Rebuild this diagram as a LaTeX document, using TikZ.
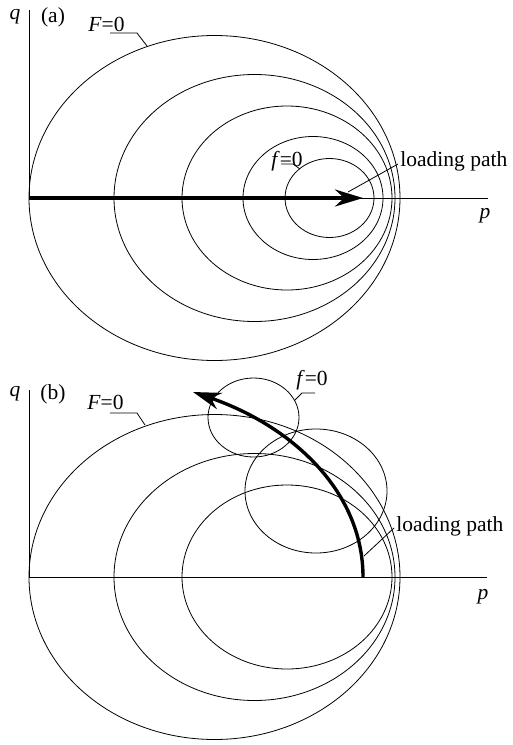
\documentclass[tikz,border=0pt]{standalone}
\usepackage{fontspec}
\setmainfont{Liberation Serif}
\usetikzlibrary{arrows.meta}
\begin{document}
\begin{tikzpicture}[x=1pt,y=-1pt,>=Stealth,line width=0.8pt,
  lbl/.style={inner sep=0pt,font=\fontsize{21.5}{24}\selectfont},
  load/.style={line width=3.4pt,-{Stealth[length=28pt,width=17pt]}}]
\useasboundingbox (0,0) rectangle (513,745);
% (a) proportional loading
\coordinate (oa) at (29,198);
\coordinate (qa) at (29,10);
\coordinate (pa) at (488,198);
\draw (qa)--(oa)--(pa);
\node[lbl] (qlaba) at (15,17) {\textit{q}};
\node[lbl] (plaba) at (485,216) {\textit{p}};
\node[lbl] (taga) at (53,17) {(a)};
\foreach \cx/\rx/\ry in {214.5/185.5/162.5,254.5/140.5/123.5,287/105/92,313/70/61.5,329.5/44.5/39.5}
  \draw (\cx,198) ellipse [x radius=\rx, y radius=\ry];
\coordinate (tipa) at (363,198);
\draw[load] (oa)--(tipa);
\node[lbl,anchor=base west] (Fa) at (88,31) {\textit{F}=0};
\coordinate (Fea) at (147,46);
\draw (110,33)--(137,33)--(Fea);
\node[lbl,anchor=base west] (fa) at (271,166) {\textit{f}=0};
\coordinate (fea) at (300,169);
\draw (281,164)--(293,164)--(fea);
\node[lbl,anchor=base west] (lpa) at (400,166) {loading path};
\coordinate (lea) at (348,192);
\draw ([xshift=-2pt,yshift=2pt]lpa.base west)--(lea);
% (b) rotating path
\coordinate (ob) at (29,577);
\coordinate (qb) at (29,390);
\coordinate (pb) at (487,577);
\draw (qb)--(ob)--(pb);
\node[lbl] (qlabb) at (15,394) {\textit{q}};
\node[lbl] (plabb) at (483,597) {\textit{p}};
\node[lbl] (tagb) at (53,394) {(b)};
\foreach \cx/\rx/\ry in {214.5/185.5/162.5,254.5/140.5/123.5,287/105/92}
  \draw (\cx,577) ellipse [x radius=\rx, y radius=\ry];
\draw (316,491) ellipse [x radius=71, y radius=62];
\draw (253.5,417.5) ellipse [x radius=45.5, y radius=39.5];
\coordinate (sb) at (363,577);
\coordinate (tipb) at (193,392);
\draw[load] (sb) .. controls (363,490) and (290,425) .. (tipb);
\node[lbl,anchor=base west] (Fb) at (87,409) {\textit{F}=0};
\coordinate (Feb) at (145,425);
\draw (110,413)--(137,413)--(Feb);
\node[lbl,anchor=base west] (fb) at (296,385) {\textit{f}=0};
\coordinate (feb) at (295,400);
\draw (315,393)--(302,393)--(feb);
\node[lbl,anchor=base west] (lpb) at (396,531) {loading path};
\coordinate (leb) at (364,556);
\draw ([xshift=-2pt,yshift=3pt]lpb.base west)--(leb);
\end{tikzpicture}
\end{document}
